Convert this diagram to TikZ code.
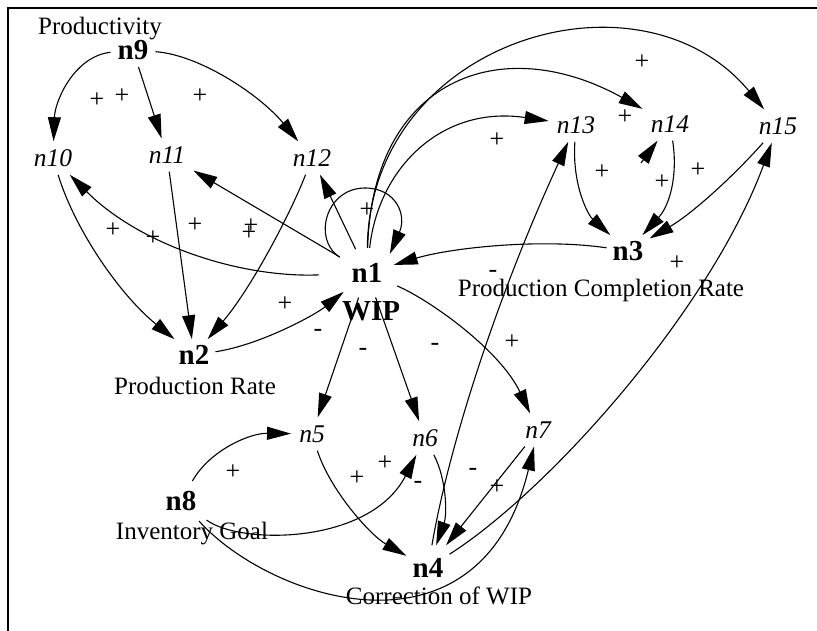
\documentclass[tikz,border=0pt]{standalone}
\usepackage{fontspec}
\setmainfont{Liberation Serif}
\usetikzlibrary{arrows.meta,shapes.geometric}
\begin{document}
\begin{tikzpicture}[x=1pt,y=-1pt,
  every node/.style={inner sep=0pt},
  txt/.style={font=\fontsize{25}{30}\selectfont},
  bn/.style={font=\bfseries\fontsize{29}{34}\selectfont, rectangle, inner sep=6pt},
  itn/.style={font=\itshape\fontsize{25.5}{30}\selectfont, rectangle, inner sep=8pt},
  sgn/.style={font=\fontsize{26}{30}\selectfont},
  arr/.style={line width=1.1pt, -{Triangle[length=24pt,width=13pt]}},
  frame/.style={line width=2.2pt}
]
\useasboundingbox (0,0) rectangle (817,631);
\draw[frame] (8,631) -- (8,8) -- (817,8);

% nodes
\node[txt] (prod) at (100,29) {Productivity};
\node[bn, inner sep=7pt] (n9) at (133,50) {n9};
\node[itn] (n10) at (53,158) {n10};
\node[itn] (n11) at (167,155) {n11};
\node[itn] (n12) at (312,158) {n12};
\node[itn] (n13) at (576,125) {n13};
\node[itn] (n14) at (670,124) {n14};
\node[itn] (n15) at (778,126) {n15};
\node[bn, ellipse, minimum width=70pt, minimum height=50pt, inner sep=0pt] (n1) at (367,273) {n1};
\node[bn, inner sep=0pt] (wip) at (371,311) {WIP};
\node[bn] (n2) at (194,355) {n2};
\node[txt] (prate) at (195,386) {Production Rate};
\node[bn] (n3) at (628,251) {n3};
\node[txt] (pcr) at (601,290) {Production Completion Rate};
\node[itn] (n5) at (312,434) {n5};
\node[itn] (n6) at (425,438) {n6};
\node[itn] (n7) at (538,430) {n7};
\node[bn, inner sep=10pt] (n8) at (181,501) {n8};
\node[txt] (igoal) at (192,534) {Inventory Goal};
\node[bn, inner xsep=6pt, inner ysep=13pt] (n4) at (428,568) {n4};
\node[txt] (cwip) at (439,596) {Correction of WIP};

% connectors
\draw[arr] (n9) .. controls (75,56) and (55,100) .. (n10);
\draw[arr] (n9) -- (n11);
\draw[arr] (n9) .. controls (200,55) and (260,95) .. (n12);
\draw[arr, shorten <=13pt] (n1) .. controls (240,278) and (140,245) .. (n10);
\draw[arr] (n1) -- (n11);
\draw[arr] (n1) -- (n12);
\draw[arr] (n1.150) .. controls (312,239) and (326,188) .. (365,188)
                   .. controls (396,188) and (407,215) .. (n1.40);
\draw[arr] (n1) .. controls (378,170) and (440,105) .. (n13);
\draw[arr] (n1) .. controls (372,80) and (500,30) .. (n14);
\draw[arr] (n1) .. controls (370,40) and (640,-40) .. (n15);
\draw[arr] (n13) .. controls (572,185) and (588,215) .. (n3);
\draw[arr] (n14) .. controls (678,175) and (670,205) .. (n3);
\draw[arr] (n15) .. controls (730,180) and (690,215) .. (n3);
\coordinate (h14) at (641,163);
\draw[arr] (h14) -- (n14);
\draw[arr, shorten >=-6pt] (n3) .. controls (540,238) and (450,248) .. (n1);
\draw[arr] (n2) .. controls (260,345) and (315,315) .. (n1);
\draw[arr] (n10) .. controls (75,230) and (120,295) .. (n2);
\draw[arr] (n11) -- (n2);
\draw[arr] (n12) .. controls (290,215) and (250,290) .. (n2);
\draw[arr] (n1) -- (n5);
\draw[arr] (n1) -- (n6);
\draw[arr] (n1) .. controls (430,300) and (500,350) .. (n7);
\draw[arr] (n8) .. controls (210,450) and (250,433) .. (n5);
\draw[arr] (n8) .. controls (240,545) and (370,545) .. (n6);
\draw[arr] (n8) .. controls (270,600) and (480,670) .. (n7);
\draw[arr] (n5) .. controls (330,490) and (370,535) .. (n4);
\draw[arr] (n6) .. controls (447,480) and (447,515) .. (n4);
\draw[arr] (n7) -- (n4);
\draw[arr] (n4) .. controls (450,440) and (500,290) .. (n13);
\draw[arr] (n4) .. controls (550,490) and (710,310) .. (n15);

% signs
\node[sgn] (p1) at (97,100) {+};
\node[sgn] (p2) at (122,96) {+};
\node[sgn] (p3) at (200,96) {+};
\node[sgn] (p4) at (113,230) {+};
\node[sgn] (p5) at (153,238) {+};
\node[sgn] (p6) at (195,225) {+};
\node[sgn] (p7) at (251,226) {+};
\node[sgn] (p8) at (249,233) {+};
\node[sgn] (p9) at (367,210) {+};
\node[sgn] (p10) at (285,304) {+};
\node[sgn] (p11) at (497,140) {+};
\node[sgn] (p12) at (625,117) {+};
\node[sgn] (p13) at (642,62) {+};
\node[sgn] (p14) at (602,172) {+};
\node[sgn] (p15) at (662,182) {+};
\node[sgn] (p16) at (698,170) {+};
\node[sgn] (p17) at (677,263) {+};
\node[sgn] (p18) at (512,342) {+};
\node[sgn] (p19) at (233,472) {+};
\node[sgn] (p20) at (357,478) {+};
\node[sgn] (p21) at (385,463) {+};
\node[sgn] (p22) at (497,487) {+};
\node[sgn] (m1) at (493,274) {-};
\node[sgn] (m2) at (318,333) {-};
\node[sgn] (m3) at (363,352) {-};
\node[sgn] (m4) at (435,347) {-};
\node[sgn] (m5) at (418,485) {-};
\node[sgn] (m6) at (473,472) {-};
\end{tikzpicture}
\end{document}
